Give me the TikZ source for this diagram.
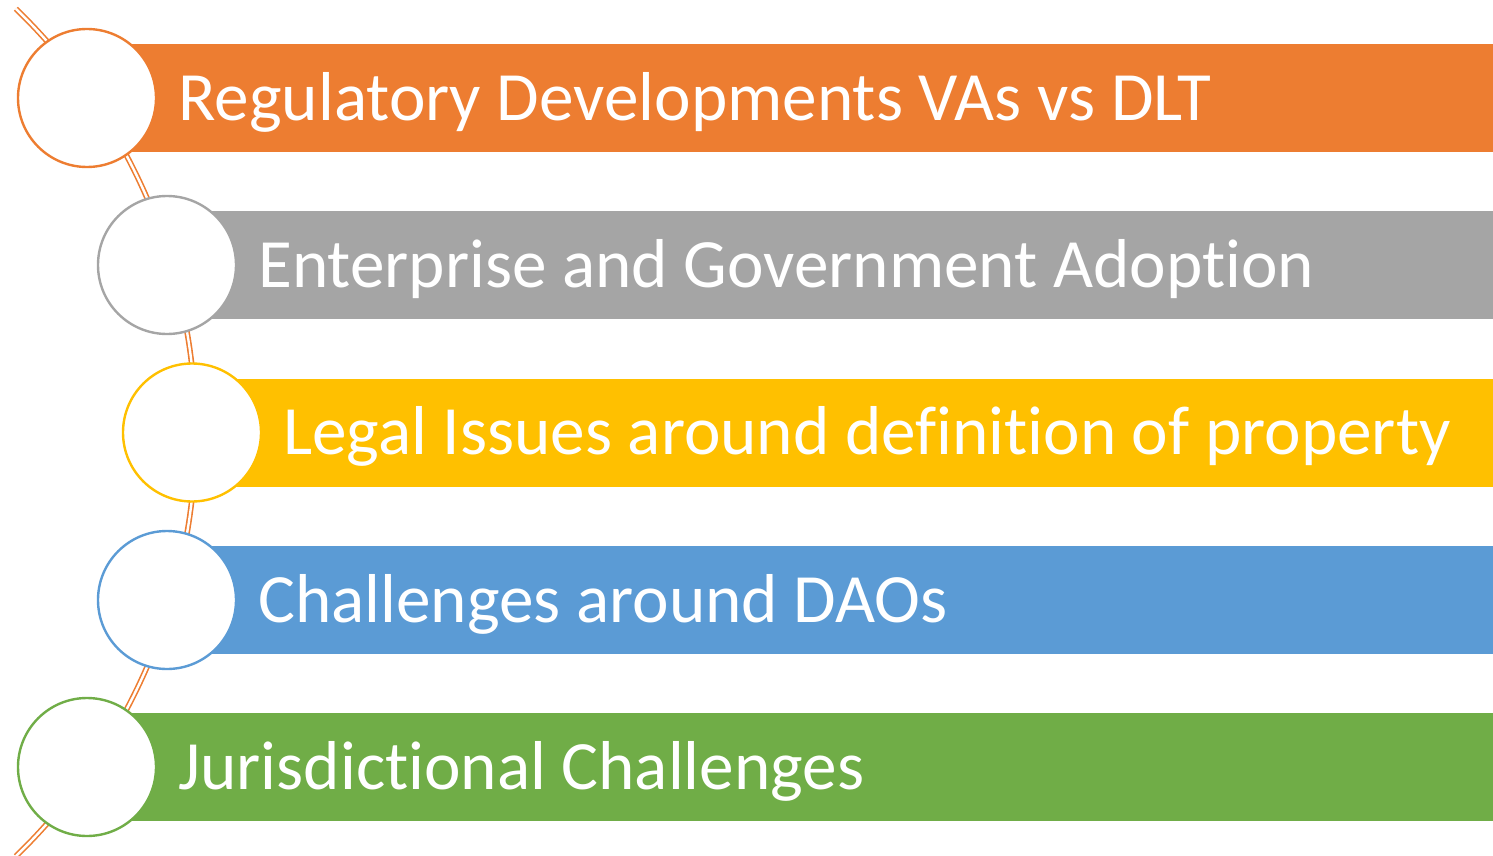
\documentclass[tikz,border=0pt]{standalone}
\usepackage{fontspec}
\setmainfont{Carlito}[Ligatures={NoCommon}]
\usepackage{tikz}

\definecolor{vaorange}{HTML}{ED7D31}
\definecolor{vagray}{HTML}{A5A5A5}
\definecolor{vayellow}{HTML}{FFC000}
\definecolor{vablue}{HTML}{5B9BD5}
\definecolor{vagreen}{HTML}{70AD47}

\tikzset{
  bar/.style = {rectangle, anchor=west, inner sep=0pt, minimum height=54pt},
  dot/.style = {circle, draw, fill=white, line width=1.2pt, minimum size=69pt, inner sep=0pt},
  label/.style = {anchor=base west, inner sep=0pt, text=white, font=\fontsize{34.6}{42}\selectfont}
}

\begin{document}
\begin{tikzpicture}[x=0.5pt, y=-0.5pt]
        \useasboundingbox (0,0) rectangle (1493,856);
        \coordinate (hub) at (-393.3,432.5);
        \draw[vaorange, line width=0.8pt, double=white, double distance=1.2pt] (hub) ++(-46:589) arc (-46:46:589);
        \node[bar, fill=vaorange, minimum width=703pt] (bar1) at (87,98) {};
        \node[bar, fill=vagray, minimum width=663pt] (bar2) at (167,265) {};
        \node[bar, fill=vayellow, minimum width=650.5pt] (bar3) at (192,432.5) {};
        \node[bar, fill=vablue, minimum width=663pt] (bar4) at (167,600) {};
        \node[bar, fill=vagreen, minimum width=703pt] (bar5) at (87,767) {};
        \node[dot, draw=vaorange] (dot1) at (87,98) {};
        \node[dot, draw=vagray] (dot2) at (167,265) {};
        \node[dot, draw=vayellow] (dot3) at (192,432.5) {};
        \node[dot, draw=vablue] (dot4) at (167,600) {};
        \node[dot, draw=vagreen] (dot5) at (87,767) {};
        \node[label] (txt1) at (178,120) {Regulatory Developments VAs vs DLT};
        \node[label] (txt2) at (258,287) {Enterprise and Government Adoption};
        \node[label] (txt3) at (283,454.5) {Legal Issues around definition of property};
        \node[label] (txt4) at (258,622) {Challenges around DAOs};
        \node[label] (txt5) at (178,789) {Jurisdictional Challenges};
      \end{tikzpicture}
\end{document}
